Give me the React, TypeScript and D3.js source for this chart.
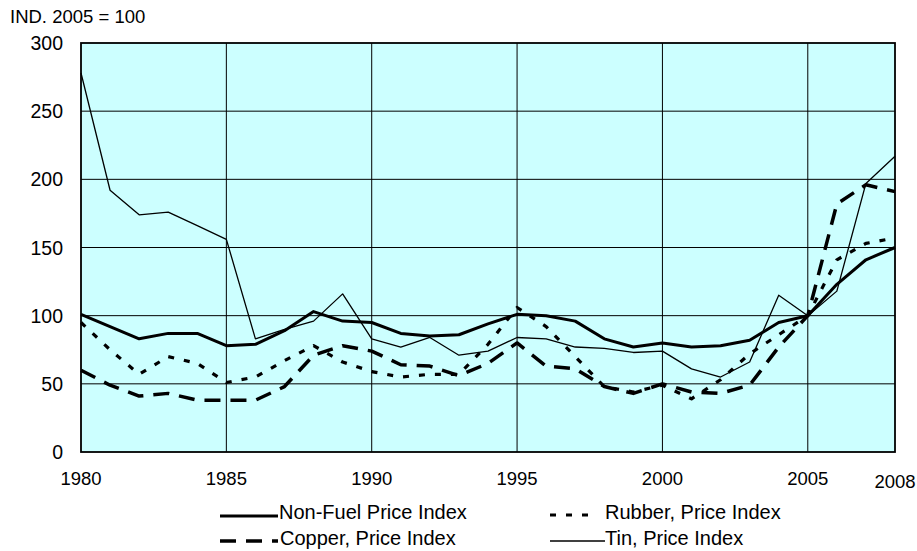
import React from 'react';
import * as d3 from 'd3';

// years on the x axis, one value per year
const years = d3.range(1980, 2009);
const nonFuel = [101, 92, 83, 87, 87, 78, 79, 89, 103, 96, 95, 87, 85, 86, 94, 101, 100, 96, 83, 77, 80, 77, 78, 82, 95, 100, 123, 141, 150];
const rubber = [95, 75, 57, 70, 65, 51, 55, 67, 78, 66, 59, 55, 57, 57, 79, 106, 92, 70, 48, 44, 49, 39, 53, 72, 86, 100, 141, 153, 157];
const copper = [60, 49, 41, 43, 38, 38, 38, 48, 71, 78, 74, 64, 63, 56, 65, 80, 63, 61, 48, 43, 50, 44, 43, 49, 77, 100, 182, 196, 191];
const tin = [278, 192, 174, 176, 166, 156, 83, 90, 96, 116, 83, 77, 84, 71, 74, 84, 83, 77, 76, 73, 74, 61, 55, 66, 115, 100, 118, 197, 217];

const xTicks = [1980, 1985, 1990, 1995, 2000, 2005];
const yTicks = [0, 50, 100, 150, 200, 250, 300];
const unitLabel = 'IND. 2005 = 100';

const series = [
  { name: 'Non-Fuel Price Index', values: nonFuel, width: 3, dash: null },
  { name: 'Rubber, Price Index', values: rubber, width: 3.2, dash: '6,10' },
  { name: 'Copper, Price Index', values: copper, width: 3.5, dash: '16,10' },
  { name: 'Tin, Price Index', values: tin, width: 1.3, dash: null },
];

const font = '"Liberation Sans", Arial, sans-serif';

export default function App() {
  const W = 917, H = 551;
  const m = { left: 81, right: 895, top: 43, bottom: 452 };

  const x = d3.scaleLinear().domain([1980, 2008]).range([m.left, m.right]);
  const y = d3.scaleLinear().domain([0, 300]).range([m.bottom, m.top]);

  const line = d3.line<number>()
    .x((d, i) => x(years[i]))
    .y(d => y(d));

  // legend placement: two columns, two rows
  const legendPos = [
    { lx: 220, len: 58, ly: 516, tx: 279, ty: 519 },
    { lx: 550, len: 46, ly: 515, tx: 605, ty: 519 },
    { lx: 220, len: 58, ly: 541, tx: 280, ty: 545 },
    { lx: 550, len: 55, ly: 541, tx: 605, ty: 545 },
  ];

  return (
    <svg width={W} height={H} style={{ position: 'absolute', left: 0, top: 0, background: '#fff' }} fontFamily={font}>
      <text x={10} y={23} fontSize={18.5} fill="#000">{unitLabel}</text>

      <rect x={m.left} y={m.top} width={m.right - m.left} height={m.bottom - m.top} fill="#ccffff" />

      {yTicks.filter(t => t > 0 && t < 300).map(t => (
        <line key={'gy' + t} x1={m.left} x2={m.right} y1={y(t)} y2={y(t)} stroke="#000" strokeWidth={1} />
      ))}
      {xTicks.filter(t => t > 1980).map(t => (
        <line key={'gx' + t} x1={x(t)} x2={x(t)} y1={m.top} y2={m.bottom} stroke="#000" strokeWidth={1} />
      ))}

      <rect x={m.left} y={m.top} width={m.right - m.left} height={m.bottom - m.top} fill="none" stroke="#000" strokeWidth={1.8} />

      {yTicks.map(t => (
        <text key={'ty' + t} x={63} y={y(t)} dy="0.36em" textAnchor="end" fontSize={19.5} fill="#000">{t}</text>
      ))}
      {xTicks.map(t => (
        <text key={'tx' + t} x={x(t)} y={485} textAnchor="middle" fontSize={18.5} fill="#000">{t}</text>
      ))}
      <text x={x(2008)} y={488} textAnchor="middle" fontSize={18.5} fill="#000">2008</text>

      {series.map(s => (
        <path key={s.name} d={line(s.values) || ''} fill="none" stroke="#000"
          strokeWidth={s.width} strokeDasharray={s.dash || undefined} strokeLinejoin="round" />
      ))}

      {series.map((s, i) => {
        const p = legendPos[i];
        return (
          <g key={'lg' + s.name}>
            <line x1={p.lx} x2={p.lx + p.len} y1={p.ly} y2={p.ly} stroke="#000"
              strokeWidth={s.width} strokeDasharray={s.dash || undefined} />
            <text x={p.tx} y={p.ty} fontSize={20} fill="#000">{s.name}</text>
          </g>
        );
      })}
    </svg>
  );
}
